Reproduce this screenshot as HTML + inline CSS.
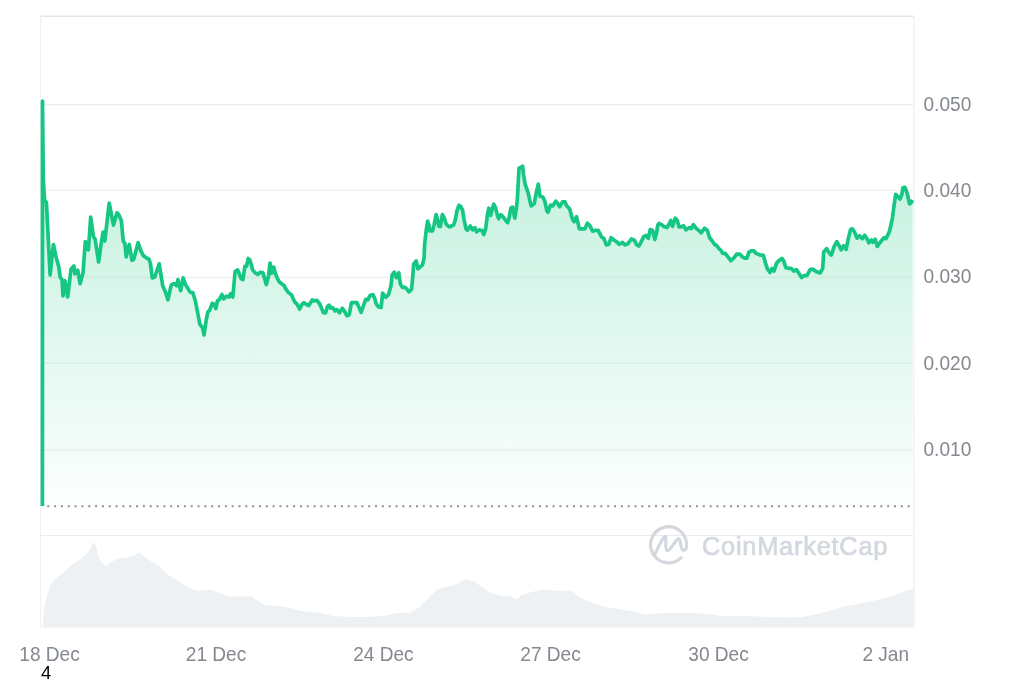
<!DOCTYPE html>
<html><head><meta charset="utf-8"><title>CoinMarketCap chart</title>
<style>
html,body{margin:0;padding:0;background:#fff;}
body{width:1024px;height:683px;overflow:hidden;position:relative;}
svg{position:absolute;left:0;top:0;display:block;}
.ax{font-family:"Liberation Sans",Arial,sans-serif;font-size:19.2px;fill:#84888f;}
.wm{font-family:"Liberation Sans",Arial,sans-serif;font-size:25.4px;font-weight:400;fill:#d3d8df;stroke:#d3d8df;stroke-width:0.7px;letter-spacing:0.75px;}
</style></head>
<body>
<svg width="1024" height="683" viewBox="0 0 1024 683">
<defs>
<linearGradient id="g" x1="0" y1="100" x2="0" y2="520" gradientUnits="userSpaceOnUse">
<stop offset="0" stop-color="#16c784" stop-opacity="0.30"/>
<stop offset="1" stop-color="#16c784" stop-opacity="0"/>
</linearGradient>
</defs>
<rect width="1024" height="683" fill="#fff"/>
<!-- grid -->
<g stroke="#ececec" stroke-width="1.1">
<line x1="41" y1="104.6" x2="913" y2="104.6"/>
<line x1="41" y1="190.2" x2="913" y2="190.2"/>
<line x1="41" y1="277.2" x2="913" y2="277.2"/>
<line x1="41" y1="363" x2="913" y2="363"/>
<line x1="41" y1="450" x2="913" y2="450"/>
<line x1="41" y1="535.5" x2="913" y2="535.5"/>
</g>
<line x1="40" y1="16.2" x2="914" y2="16.2" stroke="#e5e5e5" stroke-width="1.4"/>
<line x1="40.5" y1="16" x2="40.5" y2="628" stroke="#f0f0f0" stroke-width="1.2"/>
<line x1="913.9" y1="16" x2="913.9" y2="628" stroke="#efefef" stroke-width="1.2"/>
<!-- volume -->
<path d="M42.2 627.5 L42.7 625.7 L44.2 607.7 L46.5 597.3 L49.5 588.3 L52.4 582.3 L58.4 576.3 L64.4 571.9 L71.9 564.4 L79.3 559.9 L85.3 555.4 L89.8 549.4 L93.5 542 L95.8 545 L98.8 558.4 L105.5 566.6 L112.2 561.4 L118.2 558.4 L125.7 557.7 L133.2 556.2 L139.1 552.4 L145.1 556.9 L151.1 561.4 L158.6 565.1 L164.5 571.9 L170.5 576.3 L176 579.3 L180.4 582.4 L189 588.1 L197.4 590.9 L208.8 589.5 L217.3 592.3 L228.6 596.6 L239.9 596.6 L251.2 596.6 L259.7 602.2 L265.4 605 L282.4 606.5 L290.9 607.9 L299.4 610.7 L310.7 612.1 L320 612.7 L331.7 615.7 L349.3 617.1 L366.9 617.1 L384.5 615.7 L396.2 613.3 L410.8 612.7 L419.6 606.9 L428.4 598.1 L437.2 589.3 L448.9 586.4 L457.7 583.4 L466.5 579 L475.3 582 L482.6 587.8 L489.9 592.2 L498.7 595.2 L511.9 596.6 L516.3 599.6 L522.2 594.6 L531 592.2 L542.7 589.3 L554.4 590.8 L572 590.8 L580.8 598.1 L592.5 602.5 L604.2 606.9 L615 608.4 L633.2 611.5 L645.3 614.5 L660.4 613 L675.5 613 L693.7 613 L711.9 614.5 L721 616 L742.2 616 L766.4 616.9 L784.5 617.5 L802.7 616.9 L814.8 614.5 L827 611.5 L842.1 606.9 L857.2 603.9 L872.3 600.9 L887.5 597.8 L899.6 593.3 L913.2 588.8 L913.2 627.5 Z" fill="#edf1f4"/>
<!-- area -->
<path d="M42.4 506 L42.5 101.2 L43.3 180 L44.6 200 L46.4 202.3 L50.1 275 L53.4 244.5 L56.3 257.9 L58.7 266.4 L60.1 276.9 L62 279.8 L63 296 L64.9 280.7 L67.7 296.9 L71 269.3 L73.9 266 L74.9 274 L77.7 270.2 L80.1 283.6 L83 273.1 L85.3 241.7 L86.5 245 L88.4 249.8 L90.7 217.2 L93.4 236.6 L95.1 239.2 L98.6 262 L101.3 242.7 L103 232.2 L104.8 241 L109.2 203.2 L113.5 225.1 L117 212.8 L118.8 214.6 L121.4 220.8 L123.2 241 L124.9 243.6 L126.2 256.8 L129.3 244.5 L132 260.3 L133.7 259.4 L138.1 242.7 L140.8 250.6 L143.2 255.5 L146.5 258 L149 259.2 L150.5 264 L152.2 277.9 L154.8 277 L159.2 263.8 L162.7 285.8 L165.4 291.9 L168 299.8 L170.6 287.5 L171.5 284.7 L174.4 283.6 L176.6 285.8 L178 279.6 L180.6 290.6 L183.2 277.8 L185.4 284.4 L187.6 288 L190.3 292.4 L192.9 292.7 L195.5 301.5 L199.9 324.4 L202.6 327.9 L204 334.9 L206.1 320.8 L207.8 312.1 L209.6 310.3 L212.2 303.3 L214 304.1 L215.8 308.5 L217.5 300.6 L219.3 299.8 L221.9 294.5 L223.7 298.9 L226.3 296.2 L228.9 297.1 L230.7 293.6 L232.8 297.1 L235.1 271.6 L237.7 269.9 L241.2 278.7 L243 279.5 L244.8 266.4 L246.5 266.4 L248.3 258.5 L250 260.2 L252.7 269.9 L255 272.6 L257.9 274.4 L260.1 272.2 L263 272.9 L266.3 284.6 L268.5 276.2 L270 263 L271.8 273.3 L273.7 267.1 L275.1 272.6 L277 277.7 L279.1 281.7 L281 283.2 L284.3 285.7 L285 287.6 L288.1 292.2 L291.7 295.2 L294.7 301.9 L297.3 304.5 L299.6 309.1 L301.9 304.5 L304 302.7 L306.5 304.5 L308.8 305.5 L312.2 299.9 L314.2 300.9 L317 300.4 L319.8 304 L321.9 309.1 L323.4 312.7 L325.5 312.9 L327.5 306.5 L329.1 305.2 L330.6 308.1 L332.6 307.5 L335 310.9 L337 309.6 L339.6 312.9 L342.2 308.3 L344.2 310.6 L346.8 315.7 L349.3 314.7 L351.4 302.7 L354.5 302.7 L357 302.7 L359.3 308.1 L361.1 312.4 L363.7 305 L365.7 299.3 L367.8 299.9 L370.3 295.2 L372.9 294.7 L374.7 298.3 L376 303.4 L378.5 307 L381.1 307.5 L382.6 293.2 L385.9 297.2 L388.6 294.5 L390.9 286 L392.2 274.8 L394.2 272.1 L396.5 277.7 L398.8 272.8 L400.4 284 L402.4 287.3 L405 287.3 L407 289.3 L409 291.9 L411.6 289.3 L412.9 274.8 L413.6 264.2 L416.2 260.9 L417.9 268.8 L420.2 266.9 L422.5 264.9 L424.1 257.6 L424.6 244.8 L426.3 229.6 L427.6 221.1 L428.9 225 L429.9 231 L432.5 231 L434.2 224.4 L436.1 214.5 L437.5 219.8 L438.8 226.4 L440.4 226.4 L442.4 214.5 L444.4 218.4 L446 223.7 L447.7 225.7 L449.6 227 L452 225.7 L453.6 225 L455.2 220.4 L456.9 211.2 L458.9 205.3 L460.8 206.6 L462.5 209.9 L464.1 219.8 L466.1 229 L467.4 230.3 L470.3 226 L472.6 229.9 L474.9 227.6 L476.6 231.9 L479.2 229.9 L481.8 230.6 L483.8 234.5 L485.8 227.9 L487.4 214.8 L488.8 208.2 L490.7 215.4 L492.4 208.2 L493.7 204.2 L495.7 208.2 L497.3 214.8 L498.6 218.7 L500.9 214.8 L502.9 216.7 L504.9 219.4 L507.5 222.7 L509.2 217.4 L510.8 208.2 L512.5 207.2 L514.8 218.1 L516.4 208.2 L517.4 198.3 L519 168 L520.6 167.6 L522.6 166.2 L523.5 174.5 L525.1 184.2 L527.9 192.2 L531.1 205.9 L534.3 203.5 L536.3 192.2 L538.3 184.2 L540 196.2 L542.8 197 L544.8 201.1 L546.8 210.7 L548 212.3 L550.4 205.1 L552.8 205.9 L555.7 201.1 L557.7 203.5 L559.7 206.7 L562.5 201.9 L565 201.9 L566.4 205.5 L569.6 208.7 L572.5 219.2 L574.1 221.6 L576.5 216.7 L579.3 228.8 L581.7 228.8 L584.9 228.8 L587.4 223.2 L589.8 225.6 L592.6 231.2 L595 230.4 L598.2 230.4 L601.5 236.9 L603.9 238.5 L606.3 244.9 L608.7 244.5 L611.1 237.7 L614.4 240.2 L616.8 241.9 L619.1 244.3 L622.6 242.5 L625 244.9 L627.9 243.7 L631.4 239 L634.3 240.2 L636.7 244.9 L639 246 L641.4 241.3 L643.7 236.7 L646.1 235.5 L648.4 238.4 L650.2 229.6 L652.5 230.2 L654.8 239.6 L656.6 232.6 L657.8 225 L659.1 223.5 L661.4 224.6 L663.8 226.4 L667 227.6 L669.4 223.5 L670.8 220.5 L672.6 226.4 L675.2 218.2 L677.3 220.5 L679 227 L680.8 227 L683.7 225.8 L686 229.9 L689 227.6 L691.3 228.7 L693.4 224.6 L696 228.2 L698.9 230.5 L701.3 232.8 L704.5 228.2 L707.4 230.5 L709.5 237.5 L711.8 240.5 L714.8 244.6 L716.6 245.5 L718.6 248.2 L721.2 250.8 L722.9 253.4 L725.2 253.4 L727.8 256.7 L730.8 260.7 L733.7 258.1 L736.7 254.1 L739.7 254.1 L742.3 256.7 L744.3 258.1 L746.9 258.1 L748.9 252.1 L751.2 250.8 L753.8 250.8 L756.1 253.4 L759.4 254.8 L763.4 255.4 L765.4 262.7 L767.3 268.6 L770 272.5 L772 268.5 L774 271 L776.6 263.1 L779.2 260.4 L781.9 258.4 L783.8 261.1 L785.8 267.7 L788.4 268.3 L791.1 268.3 L793.7 271 L796.4 269.6 L799 273.6 L801.6 277.5 L804.3 275.6 L806.9 275.6 L810.2 269.6 L812.8 269 L816.1 271.6 L820.1 273 L822.7 268.3 L823.7 251.9 L826.7 248.6 L829.3 253.2 L831.3 255.1 L834.2 246.4 L836.8 241.7 L838.9 245.2 L841.2 249.9 L843.6 245.8 L846.2 249.3 L848.3 238.7 L850.6 229.4 L852.4 228.8 L854.7 232.3 L857 238.2 L859.4 235.8 L862.3 238.7 L864.7 235.2 L867 238.7 L868.8 242.8 L871.4 239.9 L872.9 242.3 L875.2 239.3 L877.3 246.4 L879.3 243.4 L881.7 240.5 L884 237.6 L886 238.7 L889.5 231.4 L892.4 218.1 L894.3 203.8 L895.7 194.3 L897.6 196.2 L900 199 L901.9 194.3 L902.9 187.8 L904.8 187.3 L906.2 190.5 L907.6 195.2 L909.5 203.8 L911 202.9 L912.6 200 L912.6 506 L42.4 506 Z" fill="url(#g)"/>
<!-- baseline dotted -->
<line x1="47.3" y1="506.3" x2="912" y2="506.3" stroke="#8b919b" stroke-width="2" stroke-dasharray="2 4.828"/>
<!-- price line -->
<path d="M42.4 506 L42.5 101.2 L43.3 180 L44.6 200 L46.4 202.3 L50.1 275 L53.4 244.5 L56.3 257.9 L58.7 266.4 L60.1 276.9 L62 279.8 L63 296 L64.9 280.7 L67.7 296.9 L71 269.3 L73.9 266 L74.9 274 L77.7 270.2 L80.1 283.6 L83 273.1 L85.3 241.7 L86.5 245 L88.4 249.8 L90.7 217.2 L93.4 236.6 L95.1 239.2 L98.6 262 L101.3 242.7 L103 232.2 L104.8 241 L109.2 203.2 L113.5 225.1 L117 212.8 L118.8 214.6 L121.4 220.8 L123.2 241 L124.9 243.6 L126.2 256.8 L129.3 244.5 L132 260.3 L133.7 259.4 L138.1 242.7 L140.8 250.6 L143.2 255.5 L146.5 258 L149 259.2 L150.5 264 L152.2 277.9 L154.8 277 L159.2 263.8 L162.7 285.8 L165.4 291.9 L168 299.8 L170.6 287.5 L171.5 284.7 L174.4 283.6 L176.6 285.8 L178 279.6 L180.6 290.6 L183.2 277.8 L185.4 284.4 L187.6 288 L190.3 292.4 L192.9 292.7 L195.5 301.5 L199.9 324.4 L202.6 327.9 L204 334.9 L206.1 320.8 L207.8 312.1 L209.6 310.3 L212.2 303.3 L214 304.1 L215.8 308.5 L217.5 300.6 L219.3 299.8 L221.9 294.5 L223.7 298.9 L226.3 296.2 L228.9 297.1 L230.7 293.6 L232.8 297.1 L235.1 271.6 L237.7 269.9 L241.2 278.7 L243 279.5 L244.8 266.4 L246.5 266.4 L248.3 258.5 L250 260.2 L252.7 269.9 L255 272.6 L257.9 274.4 L260.1 272.2 L263 272.9 L266.3 284.6 L268.5 276.2 L270 263 L271.8 273.3 L273.7 267.1 L275.1 272.6 L277 277.7 L279.1 281.7 L281 283.2 L284.3 285.7 L285 287.6 L288.1 292.2 L291.7 295.2 L294.7 301.9 L297.3 304.5 L299.6 309.1 L301.9 304.5 L304 302.7 L306.5 304.5 L308.8 305.5 L312.2 299.9 L314.2 300.9 L317 300.4 L319.8 304 L321.9 309.1 L323.4 312.7 L325.5 312.9 L327.5 306.5 L329.1 305.2 L330.6 308.1 L332.6 307.5 L335 310.9 L337 309.6 L339.6 312.9 L342.2 308.3 L344.2 310.6 L346.8 315.7 L349.3 314.7 L351.4 302.7 L354.5 302.7 L357 302.7 L359.3 308.1 L361.1 312.4 L363.7 305 L365.7 299.3 L367.8 299.9 L370.3 295.2 L372.9 294.7 L374.7 298.3 L376 303.4 L378.5 307 L381.1 307.5 L382.6 293.2 L385.9 297.2 L388.6 294.5 L390.9 286 L392.2 274.8 L394.2 272.1 L396.5 277.7 L398.8 272.8 L400.4 284 L402.4 287.3 L405 287.3 L407 289.3 L409 291.9 L411.6 289.3 L412.9 274.8 L413.6 264.2 L416.2 260.9 L417.9 268.8 L420.2 266.9 L422.5 264.9 L424.1 257.6 L424.6 244.8 L426.3 229.6 L427.6 221.1 L428.9 225 L429.9 231 L432.5 231 L434.2 224.4 L436.1 214.5 L437.5 219.8 L438.8 226.4 L440.4 226.4 L442.4 214.5 L444.4 218.4 L446 223.7 L447.7 225.7 L449.6 227 L452 225.7 L453.6 225 L455.2 220.4 L456.9 211.2 L458.9 205.3 L460.8 206.6 L462.5 209.9 L464.1 219.8 L466.1 229 L467.4 230.3 L470.3 226 L472.6 229.9 L474.9 227.6 L476.6 231.9 L479.2 229.9 L481.8 230.6 L483.8 234.5 L485.8 227.9 L487.4 214.8 L488.8 208.2 L490.7 215.4 L492.4 208.2 L493.7 204.2 L495.7 208.2 L497.3 214.8 L498.6 218.7 L500.9 214.8 L502.9 216.7 L504.9 219.4 L507.5 222.7 L509.2 217.4 L510.8 208.2 L512.5 207.2 L514.8 218.1 L516.4 208.2 L517.4 198.3 L519 168 L520.6 167.6 L522.6 166.2 L523.5 174.5 L525.1 184.2 L527.9 192.2 L531.1 205.9 L534.3 203.5 L536.3 192.2 L538.3 184.2 L540 196.2 L542.8 197 L544.8 201.1 L546.8 210.7 L548 212.3 L550.4 205.1 L552.8 205.9 L555.7 201.1 L557.7 203.5 L559.7 206.7 L562.5 201.9 L565 201.9 L566.4 205.5 L569.6 208.7 L572.5 219.2 L574.1 221.6 L576.5 216.7 L579.3 228.8 L581.7 228.8 L584.9 228.8 L587.4 223.2 L589.8 225.6 L592.6 231.2 L595 230.4 L598.2 230.4 L601.5 236.9 L603.9 238.5 L606.3 244.9 L608.7 244.5 L611.1 237.7 L614.4 240.2 L616.8 241.9 L619.1 244.3 L622.6 242.5 L625 244.9 L627.9 243.7 L631.4 239 L634.3 240.2 L636.7 244.9 L639 246 L641.4 241.3 L643.7 236.7 L646.1 235.5 L648.4 238.4 L650.2 229.6 L652.5 230.2 L654.8 239.6 L656.6 232.6 L657.8 225 L659.1 223.5 L661.4 224.6 L663.8 226.4 L667 227.6 L669.4 223.5 L670.8 220.5 L672.6 226.4 L675.2 218.2 L677.3 220.5 L679 227 L680.8 227 L683.7 225.8 L686 229.9 L689 227.6 L691.3 228.7 L693.4 224.6 L696 228.2 L698.9 230.5 L701.3 232.8 L704.5 228.2 L707.4 230.5 L709.5 237.5 L711.8 240.5 L714.8 244.6 L716.6 245.5 L718.6 248.2 L721.2 250.8 L722.9 253.4 L725.2 253.4 L727.8 256.7 L730.8 260.7 L733.7 258.1 L736.7 254.1 L739.7 254.1 L742.3 256.7 L744.3 258.1 L746.9 258.1 L748.9 252.1 L751.2 250.8 L753.8 250.8 L756.1 253.4 L759.4 254.8 L763.4 255.4 L765.4 262.7 L767.3 268.6 L770 272.5 L772 268.5 L774 271 L776.6 263.1 L779.2 260.4 L781.9 258.4 L783.8 261.1 L785.8 267.7 L788.4 268.3 L791.1 268.3 L793.7 271 L796.4 269.6 L799 273.6 L801.6 277.5 L804.3 275.6 L806.9 275.6 L810.2 269.6 L812.8 269 L816.1 271.6 L820.1 273 L822.7 268.3 L823.7 251.9 L826.7 248.6 L829.3 253.2 L831.3 255.1 L834.2 246.4 L836.8 241.7 L838.9 245.2 L841.2 249.9 L843.6 245.8 L846.2 249.3 L848.3 238.7 L850.6 229.4 L852.4 228.8 L854.7 232.3 L857 238.2 L859.4 235.8 L862.3 238.7 L864.7 235.2 L867 238.7 L868.8 242.8 L871.4 239.9 L872.9 242.3 L875.2 239.3 L877.3 246.4 L879.3 243.4 L881.7 240.5 L884 237.6 L886 238.7 L889.5 231.4 L892.4 218.1 L894.3 203.8 L895.7 194.3 L897.6 196.2 L900 199 L901.9 194.3 L902.9 187.8 L904.8 187.3 L906.2 190.5 L907.6 195.2 L909.5 203.8 L911 202.9 L912.6 200" fill="none" stroke="#16c784" stroke-width="3.7" stroke-linejoin="round" stroke-linecap="butt"/>
<!-- watermark -->
<g fill="none" stroke="#d3d8df" stroke-width="3.2" stroke-linecap="round" stroke-linejoin="round">
<path d="M681.2 557.6 A18 18 0 1 1 686.6 544.6 C686.9 550 684 551 682.3 549.5 C680.5 548 680.5 538 678.5 538.6 C675.5 539.5 670 551.5 667.2 551 C664.5 550.5 667 536 665 536.5 C662 537.5 658 548 654.5 555.2"/>
</g>
<text class="wm" x="702" y="555.1">CoinMarketCap</text>
<!-- y labels -->
<text class="ax" transform="translate(923.5 110.8) scale(0.995 1.065)">0.050</text>
<text class="ax" transform="translate(923.5 197.1) scale(0.995 1.065)">0.040</text>
<text class="ax" transform="translate(923.5 283.4) scale(0.995 1.065)">0.030</text>
<text class="ax" transform="translate(923.5 369.7) scale(0.995 1.065)">0.020</text>
<text class="ax" transform="translate(923.5 456.0) scale(0.995 1.065)">0.010</text>
<!-- x labels -->
<text class="ax" transform="translate(19.3 660.8) scale(0.995 1.065)">18 Dec</text>
<text class="ax" transform="translate(185.8 660.8) scale(0.995 1.065)">21 Dec</text>
<text class="ax" transform="translate(353.2 660.8) scale(0.995 1.065)">24 Dec</text>
<text class="ax" transform="translate(520.3 660.8) scale(0.995 1.065)">27 Dec</text>
<text class="ax" transform="translate(688.3 660.8) scale(0.995 1.065)">30 Dec</text>
<text class="ax" transform="translate(862.4 660.8) scale(0.995 1.065)">2 Jan</text>
<text x="41" y="679" style="font-family:'Liberation Sans',Arial,sans-serif;font-size:18.4px;fill:#000">4</text>
</svg>
</body></html>
